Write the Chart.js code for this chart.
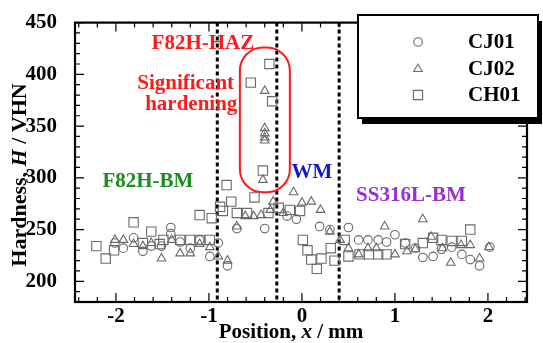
<!DOCTYPE html>
<html>
<head>
<meta charset="utf-8">
<script src="https://cdn.jsdelivr.net/npm/chart.js@4.4.0/dist/chart.umd.min.js"></script>
<style>
html, body { margin: 0; padding: 0; background: #fff; }
</style>
</head>
<body>
<canvas id="c" width="543" height="343"></canvas>
<script>
// data
const cj01X = [-2.01, -1.92, -1.81, -1.71, -1.62, -1.51, -1.41, -1.41, -1.31, -1.20, -1.10, -0.99, -0.90, -0.80, -0.70,
  -0.40, -0.16, -0.06, 0.19, 0.30, 0.50, 0.61, 0.71, 0.82, 0.91, 1.00, 1.11, 1.22, 1.30, 1.41, 1.50, 1.61, 1.72, 1.81, 1.91, 2.02];
const cj01Y = [237, 232, 242, 229, 234, 234, 252, 246, 238, 232, 240, 224, 237, 215, 251,
  251, 263, 260, 253, 250, 252, 240, 240, 240, 238, 245, 237, 232, 223, 224, 231, 233, 226, 221, 215, 233];

const cj02X = [-2.01, -1.92, -1.81, -1.71, -1.62, -1.51, -1.40, -1.31, -1.20, -1.10, -0.99, -0.90, -0.80, -0.70,
  -0.61, -0.52, -0.44, -0.34, -0.31, -0.20, -0.09, 0.00, 0.10, 0.20, 0.30, 0.41, 0.50, 0.61, 0.71, 0.80, 0.89,
  1.00, 1.13, 1.22, 1.30, 1.39, 1.51, 1.60, 1.71, 1.81, 1.91, 2.01,
  -0.40, -0.40, -0.40, -0.40, -0.40, -0.42];
const cj02Y = [240, 240, 236, 234, 237, 222, 240, 227, 227, 236, 233, 224, 220, 253,
  263, 263, 264, 269, 277, 266, 286, 276, 277, 269, 248, 240, 232, 226, 232, 232, 253,
  226, 229, 231, 260, 243, 232, 218, 235, 235, 222, 233,
  384, 348, 343, 339, 336, 298];

const ch01X = [-2.21, -2.11, -2.02, -1.81, -1.71, -1.62, -1.53, -1.49, -1.31, -1.20, -1.10, -0.99,
  -1.10, -0.97, -0.88, -0.85, -0.81, -0.76, -0.70, -0.59, -0.51, -0.36, -0.25, -0.13, -0.02,
  -0.35, -0.55, -0.32, -0.42,
  0.01, 0.06, 0.10, 0.16, 0.21, 0.31, 0.35, 0.46, 0.50, 0.62, 0.72, 0.82, 0.91, 1.11, 1.30, 1.41, 1.50, 1.61, 1.72, 1.81];
const ch01Y = [234, 222, 230, 257, 237, 248, 236, 240, 240, 240, 240, 240,
  264, 261, 272, 268, 293, 277, 266, 266, 281, 266, 271, 269, 268,
  410, 392, 374, 307,
  240, 230, 221, 212, 222, 232, 220, 240, 224, 226, 226, 226, 226, 236, 237, 242, 240, 239, 239, 250];

const seriesNames = ['CJ01', 'CJ02', 'CH01'];
const xTicks = [-2, -1, 0, 1, 2];
const yTicks = [200, 250, 300, 350, 400, 450];
const boundaries = [-0.91, -0.27, 0.40];

// region labels: [text, x, y, colour]
const regionLabels = [
  ['F82H-HAZ', -1.065, 430, '#ff1a1a'],
  ['Significant', -1.25, 391.5, '#ff1a1a'],
  ['hardening', -1.19, 371, '#ff1a1a'],
  ['F82H-BM', -1.656, 296, '#1e8c1e'],
  ['WM', 0.108, 305.5, '#1515cc'],
  ['SS316L-BM', 1.172, 283, '#9a2fd0']
];
// hardening zone box, data units
const hazBox = { x0: -0.667, x1: -0.13, y0: 286, y1: 426 };

const FONT = '"Liberation Serif", "Times New Roman", serif';
const GREY = '#6a6a6a';

function pts(xs, ys) {
  return xs.map((v, i) => ({ x: v, y: ys[i] }));
}

function symbol(ctx, style, x, y) {
  ctx.beginPath();
  if (style === 'circle') {
    ctx.arc(x, y, 4.3, 0, Math.PI * 2);
  } else if (style === 'triangle') {
    const r = 5;
    ctx.moveTo(x, y - r);
    ctx.lineTo(x + r * 0.866, y + r * 0.5);
    ctx.lineTo(x - r * 0.866, y + r * 0.5);
    ctx.closePath();
  } else {
    ctx.rect(x - 4.6, y - 4.6, 9.2, 9.2);
  }
  ctx.stroke();
}

const decor = {
  id: 'decor',
  beforeDatasetsDraw(chart) {
    const { ctx, chartArea: a, scales: { x, y } } = chart;
    ctx.save();
    // dashed boundaries
    ctx.strokeStyle = '#000';
    ctx.lineWidth = 3;
    ctx.setLineDash([4, 3]);
    boundaries.forEach(b => {
      const px = x.getPixelForValue(b);
      ctx.beginPath();
      ctx.moveTo(px, a.top);
      ctx.lineTo(px, a.bottom);
      ctx.stroke();
    });
    ctx.setLineDash([]);

    // red rounded box
    const l = x.getPixelForValue(hazBox.x0), r = x.getPixelForValue(hazBox.x1);
    const t = y.getPixelForValue(hazBox.y1), bt = y.getPixelForValue(hazBox.y0);
    ctx.strokeStyle = '#ff1a1a';
    ctx.lineWidth = 2;
    ctx.beginPath();
    ctx.roundRect(l, t, r - l, bt - t, 23);
    ctx.stroke();

    // region labels
    ctx.font = 'bold 21px ' + FONT;
    ctx.textAlign = 'center';
    ctx.textBaseline = 'middle';
    regionLabels.forEach(([txt, vx, vy, col]) => {
      ctx.fillStyle = col;
      ctx.fillText(txt, x.getPixelForValue(vx), y.getPixelForValue(vy));
    });
    ctx.restore();
  },
  afterDraw(chart) {
    const { ctx, chartArea: a, scales: { x, y } } = chart;
    ctx.save();
    ctx.strokeStyle = '#000';

    // inward ticks on all four sides
    ctx.lineWidth = 1.2;
    ctx.beginPath();
    for (let v = 190; v <= 450; v += 10) {
      const py = y.getPixelForValue(v);
      const len = yTicks.includes(v) ? 9 : 5;
      ctx.moveTo(a.left, py); ctx.lineTo(a.left + len, py);
      ctx.moveTo(a.right, py); ctx.lineTo(a.right - len, py);
    }
    for (let i = -12; i <= 12; i++) {
      const v = i * 0.2;
      const px = x.getPixelForValue(v);
      const len = i % 5 === 0 ? 9 : 5;
      ctx.moveTo(px, a.bottom); ctx.lineTo(px, a.bottom - len);
      ctx.moveTo(px, a.top); ctx.lineTo(px, a.top + len);
    }
    ctx.stroke();

    // frame
    ctx.lineWidth = 2.2;
    ctx.strokeRect(a.left, a.top, a.right - a.left, a.bottom - a.top);

    // axis titles
    ctx.fillStyle = '#000';
    ctx.textBaseline = 'middle';
    const xParts = [['Position, ', 'bold'], ['x', 'italic bold'], [' / mm', 'bold']];
    let w = 0;
    xParts.forEach(([s, f]) => { ctx.font = f + ' 21px ' + FONT; w += ctx.measureText(s).width; });
    let cx = 291 - w / 2;
    xParts.forEach(([s, f]) => {
      ctx.font = f + ' 21px ' + FONT;
      ctx.textAlign = 'left';
      ctx.fillText(s, cx, 333);
      cx += ctx.measureText(s).width;
    });

    const yParts = [['Hardness, ', 'bold'], ['H', 'italic bold'], [' / VHN', 'bold']];
    ctx.save();
    ctx.translate(20, 175);
    ctx.rotate(-Math.PI / 2);
    w = 0;
    yParts.forEach(([s, f]) => { ctx.font = f + ' 22px ' + FONT; w += ctx.measureText(s).width; });
    cx = -w / 2;
    yParts.forEach(([s, f]) => {
      ctx.font = f + ' 22px ' + FONT;
      ctx.textAlign = 'left';
      ctx.fillText(s, cx, 0);
      cx += ctx.measureText(s).width;
    });
    ctx.restore();

    // legend box with shadow
    const bx = 358, by = 15, bw = 180, bh = 103;
    ctx.fillStyle = '#000';
    ctx.fillRect(bx + 4, by + 6, bw, bh);
    ctx.fillStyle = '#fff';
    ctx.fillRect(bx, by, bw, bh);
    ctx.lineWidth = 2;
    ctx.strokeRect(bx, by, bw, bh);

    const rows = [42, 69, 95];
    chart.data.datasets.forEach((ds, i) => {
      ctx.strokeStyle = GREY;
      ctx.lineWidth = 1.1;
      symbol(ctx, ds.pointStyle, 418, rows[i]);
      ctx.fillStyle = '#000';
      ctx.font = 'bold 21px ' + FONT;
      ctx.textAlign = 'left';
      ctx.fillText(ds.label, 468, rows[i] + 1);
    });
    ctx.restore();
  }
};

const common = {
  showLine: false,
  borderColor: GREY,
  backgroundColor: 'rgba(0,0,0,0)',
  borderWidth: 1.1,
  pointBorderWidth: 1.1
};

new Chart(document.getElementById('c'), {
  type: 'scatter',
  data: {
    datasets: [
      Object.assign({ label: seriesNames[0], data: pts(cj01X, cj01Y), pointStyle: 'circle', pointRadius: 4.3 }, common),
      Object.assign({ label: seriesNames[1], data: pts(cj02X, cj02Y), pointStyle: 'triangle', pointRadius: 5 }, common),
      Object.assign({ label: seriesNames[2], data: pts(ch01X, ch01Y), pointStyle: 'rect', pointRadius: 6.6 }, common)
    ]
  },
  options: {
    responsive: false,
    animation: false,
    layout: { padding: { top: 22, right: 16, bottom: 0, left: 0 } },
    plugins: { legend: { display: false }, tooltip: { enabled: false } },
    scales: {
      x: {
        type: 'linear', min: -2.44, max: 2.42,
        grid: { display: false },
        border: { display: false },
        afterBuildTicks: s => { s.ticks = xTicks.map(v => ({ value: v })); },
        afterFit: s => { s.height = 41; },
        ticks: { color: '#000', padding: -6, maxRotation: 0, font: { family: FONT, size: 21, weight: 'bold' },
          callback: v => v < 0 ? '-' + Math.abs(v) : String(v) }
      },
      y: {
        type: 'linear', min: 180, max: 450,
        grid: { display: false },
        border: { display: false },
        afterBuildTicks: s => { s.ticks = yTicks.map(v => ({ value: v })); },
        afterFit: s => { s.width = 75; },
        ticks: { color: '#000', padding: 10, font: { family: FONT, size: 21, weight: 'bold' } }
      }
    }
  },
  plugins: [decor]
});
</script>
</body>
</html>
